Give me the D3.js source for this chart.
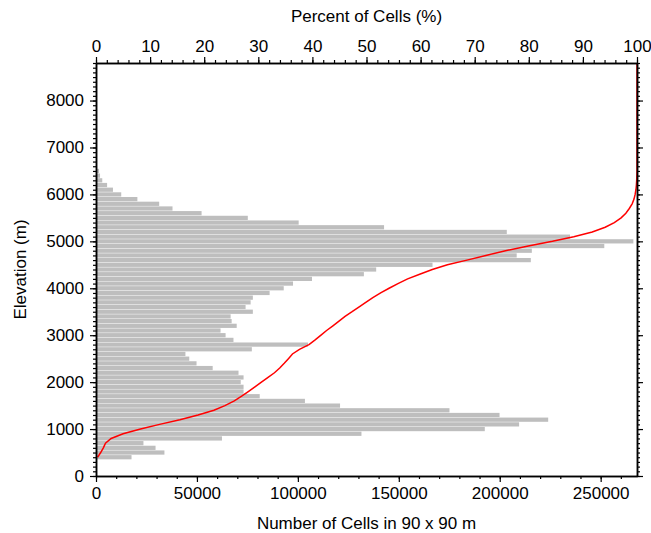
<!DOCTYPE html>
<html>
<head>
<meta charset="utf-8">
<script src="https://cdn.jsdelivr.net/npm/d3@7"></script>
<style>
  body { margin: 0; background: #fff; }
  svg text { font-family: "Liberation Sans", Arial, sans-serif; }
</style>
</head>
<body>
<div id="chart"></div>
<script>
// elevation bins (m), bar centred on the value
const elevation = [400, 500, 600, 700, 800, 900, 1000, 1100, 1200, 1300, 1400, 1500, 1600, 1700,
  1800, 1900, 2000, 2100, 2200, 2300, 2400, 2500, 2600, 2700, 2800, 2900, 3000, 3100, 3200, 3300,
  3400, 3500, 3600, 3700, 3800, 3900, 4000, 4100, 4200, 4300, 4400, 4500, 4600, 4700, 4800, 4900,
  5000, 5100, 5200, 5300, 5400, 5500, 5600, 5700, 5800, 5900, 6000, 6100, 6200, 6300, 6400, 6500];

// number of 90 x 90 m cells per bin
const cells = [17600, 33900, 29500, 23500, 62400, 131500, 192600, 209600, 224000, 199900, 175100,
  120900, 103500, 81100, 73100, 73100, 71700, 73100, 70600, 57800, 49800, 46200, 44300, 77200,
  105000, 68100, 64200, 61700, 69700, 67200, 66700, 77700, 74100, 76600, 77700, 86000, 93000,
  97600, 107000, 132700, 138800, 166700, 215400, 208400, 215900, 251800, 266200, 234800, 203500,
  142700, 100400, 75200, 52300, 37900, 31300, 20500, 12500, 8400, 5500, 3100, 2000, 1500];

const elevTicks = [0, 1000, 2000, 3000, 4000, 5000, 6000, 7000, 8000];
const countTicks = [0, 50000, 100000, 150000, 200000, 250000];
const pctTicks = [0, 10, 20, 30, 40, 50, 60, 70, 80, 90, 100];

const W = 651, H = 533;
const margin = {top: 63, right: 14, bottom: 57, left: 96};
const width = W - margin.left - margin.right,
      height = H - margin.top - margin.bottom;
const fs = "17px";

const svg = d3.select("#chart").append("svg")
    .attr("width", W)
    .attr("height", H)
  .append("g")
    .attr("transform", `translate(${margin.left},${margin.top})`);

const x = d3.scaleLinear().domain([0, 268000]).range([0, width]);
const xp = d3.scaleLinear().domain([0, 100]).range([0, width]);
const y = d3.scaleLinear().domain([0, 8800]).range([height, 0]);

// bars
const barH = y(0) - y(90);
svg.append("g")
  .selectAll("rect")
  .data(elevation)
  .enter()
  .append("rect")
    .attr("x", 0)
    .attr("y", (d) => y(d) - barH / 2)
    .attr("width", (d, i) => x(cells[i]))
    .attr("height", barH)
    .style("fill", "#bebebe");

// cumulative percent line
const total = d3.sum(cells);
const cum = d3.cumsum(cells);
const linePts = elevation.map((e, i) => ({e: e, p: cum[i] / total * 100}));
linePts.push({e: 8800, p: 100});

svg.append("path")
  .datum(linePts)
  .attr("fill", "none")
  .attr("stroke", "#ff0000")
  .attr("stroke-width", 1.5)
  .attr("d", d3.line().x(d => xp(d.p)).y(d => y(d.e)));

// axes: minor ticks first, then major with labels
const minorElev = d3.range(0, 8801, 100);
const minorCount = d3.range(0, 268001, 10000);
const minorPct = d3.range(0, 101, 2);

function styleAxis(g) {
  g.selectAll(".domain").attr("stroke", "#000").attr("stroke-width", 1.5);
  g.selectAll(".tick line").attr("stroke", "#000").attr("stroke-width", 1.2);
  g.selectAll(".tick text").attr("fill", "#000").style("font-size", fs);
}

svg.append("g").attr("transform", `translate(0,${height})`)
  .call(d3.axisBottom(x).tickValues(minorCount).tickSize(3).tickSizeOuter(0).tickFormat(""))
  .call(styleAxis);
svg.append("g").attr("transform", `translate(0,${height})`)
  .call(d3.axisBottom(x).tickValues(countTicks).tickSize(6).tickSizeOuter(0).tickPadding(5).tickFormat(d3.format("d")))
  .call(styleAxis);

svg.append("g")
  .call(d3.axisTop(xp).tickValues(minorPct).tickSize(3).tickSizeOuter(0).tickFormat(""))
  .call(styleAxis);
svg.append("g")
  .call(d3.axisTop(xp).tickValues(pctTicks).tickSize(6).tickSizeOuter(0).tickPadding(5).tickFormat(d3.format("d")))
  .call(styleAxis);

svg.append("g")
  .call(d3.axisLeft(y).tickValues(minorElev).tickSize(3).tickSizeOuter(0).tickFormat(""))
  .call(styleAxis);
svg.append("g")
  .call(d3.axisLeft(y).tickValues(elevTicks).tickSize(6).tickSizeOuter(0).tickPadding(6).tickFormat(d3.format("d")))
  .call(styleAxis);

svg.append("g").attr("transform", `translate(${width},0)`)
  .call(d3.axisRight(y).tickValues(minorElev).tickSize(3).tickSizeOuter(0).tickFormat(""))
  .call(styleAxis);
svg.append("g").attr("transform", `translate(${width},0)`)
  .call(d3.axisRight(y).tickValues(elevTicks).tickSize(6).tickSizeOuter(0).tickFormat(""))
  .call(styleAxis);

// axis titles
svg.append("text")
  .attr("x", width / 2).attr("y", -41)
  .attr("text-anchor", "middle")
  .style("font-size", fs)
  .text("Percent of Cells (%)");

svg.append("text")
  .attr("x", width / 2).attr("y", height + 53)
  .attr("text-anchor", "middle")
  .style("font-size", fs)
  .text("Number of Cells in 90 x 90 m");

svg.append("text")
  .attr("transform", `translate(-70,${height / 2}) rotate(-90)`)
  .attr("text-anchor", "middle")
  .style("font-size", fs)
  .text("Elevation (m)");
</script>
</body>
</html>
